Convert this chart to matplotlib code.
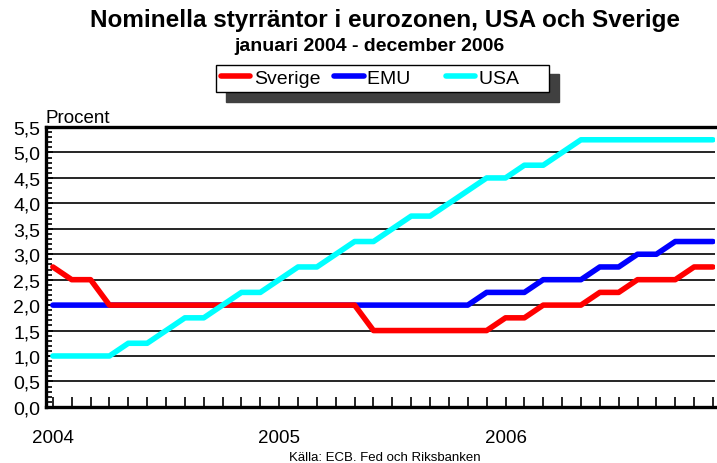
import matplotlib
matplotlib.use("Agg")
import matplotlib.pyplot as plt
from matplotlib.ticker import FuncFormatter, MultipleLocator, FixedLocator

plt.rcParams['font.family'] = ['Liberation Sans', 'DejaVu Sans']

# Månadsvärden jan 2004 - dec 2006 (procent)
manader = list(range(36))
ar_etiketter = ['2004', '2005', '2006']
sverige = [2.75, 2.5, 2.5] + [2.0] * 14 + [1.5] * 7 + [1.75] * 2 + [2.0] * 3 \
    + [2.25] * 2 + [2.5] * 3 + [2.75] * 2
emu = [2.0] * 23 + [2.25] * 3 + [2.5] * 3 + [2.75] * 2 + [3.0] * 2 + [3.25] * 3
usa = [1.0] * 4 + [1.25] * 2 + [1.5] + [1.75] * 2 + [2.0] + [2.25] * 2 + [2.5] \
    + [2.75] * 2 + [3.0] + [3.25] * 2 + [3.5] + [3.75] * 2 + [4.0] + [4.25] \
    + [4.5] * 2 + [4.75] * 2 + [5.0] + [5.25] * 8

fig = plt.figure(figsize=(7.17, 4.64), dpi=100)
ax = fig.add_axes([0.064, 0.121, 0.933, 0.603])

ax.plot(manader, emu, color='#0000ff', lw=4, solid_capstyle='round',
        solid_joinstyle='round', label='EMU', zorder=3)
ax.plot(manader, sverige, color='#ff0000', lw=4, solid_capstyle='round',
        solid_joinstyle='round', label='Sverige', zorder=4)
ax.plot(manader, usa, color='#00ffff', lw=4, solid_capstyle='round',
        solid_joinstyle='round', label='USA', zorder=5)

ax.set_xlim(-0.37, 35.1)
ax.set_ylim(0, 5.5)

for y in [0.5 * i for i in range(1, 11)]:
    ax.axhline(y, color='black', lw=1.2, zorder=1)

ax.yaxis.set_major_locator(MultipleLocator(0.5))
ax.yaxis.set_minor_locator(MultipleLocator(0.1))
ax.yaxis.set_major_formatter(FuncFormatter(lambda v, p: f'{v:.1f}'.replace('.', ',')))
ax.tick_params(axis='y', which='both', direction='in', labelsize=14, pad=4, width=1.2)
ax.tick_params(axis='y', which='major', length=5)
ax.tick_params(axis='y', which='minor', length=4)

ax.xaxis.set_major_locator(FixedLocator(manader))
ax.set_xticklabels([ar_etiketter[i // 12] if i % 12 == 0 else '' for i in manader])
ax.tick_params(axis='x', direction='in', length=7, width=1.2, labelsize=13.5, pad=16)

for s in ['left', 'bottom', 'top']:
    ax.spines[s].set_linewidth(2.4)
ax.spines['right'].set_visible(False)

ax.text(0.0, 1.005, 'Procent', transform=ax.transAxes, fontsize=13.5, ha='left', va='bottom')

fig.text(0.537, 0.955, 'Nominella styrräntor i eurozonen, USA och Sverige',
         fontsize=17.5, fontweight='bold', ha='center', va='center')
fig.text(0.515, 0.900, 'januari 2004 - december 2006',
         fontsize=14, fontweight='bold', ha='center', va='center')

handles, labels = ax.get_legend_handles_labels()
order = [1, 0, 2]
pad_labels = {'Sverige': 'Sverige', 'EMU': 'EMU    ', 'USA': 'USA     '}
leg = fig.legend([handles[i] for i in order], [pad_labels[labels[i]] for i in order],
                 loc='center', bbox_to_anchor=(0.534, 0.829), ncol=3,
                 fontsize=14, frameon=True, fancybox=False, handlelength=1.5,
                 handletextpad=0.2, columnspacing=0.7, borderpad=0.25,
                 shadow={'ox': 7, 'oy': -7, 'color': '#404040', 'alpha': 1})
leg.get_frame().set_edgecolor('black')
leg.get_frame().set_linewidth(1.0)

fig.text(0.537, 0.013, 'Källa: ECB. Fed och Riksbanken', fontsize=9.5,
         ha='center', va='center')

fig.savefig('out.png', dpi=100)
